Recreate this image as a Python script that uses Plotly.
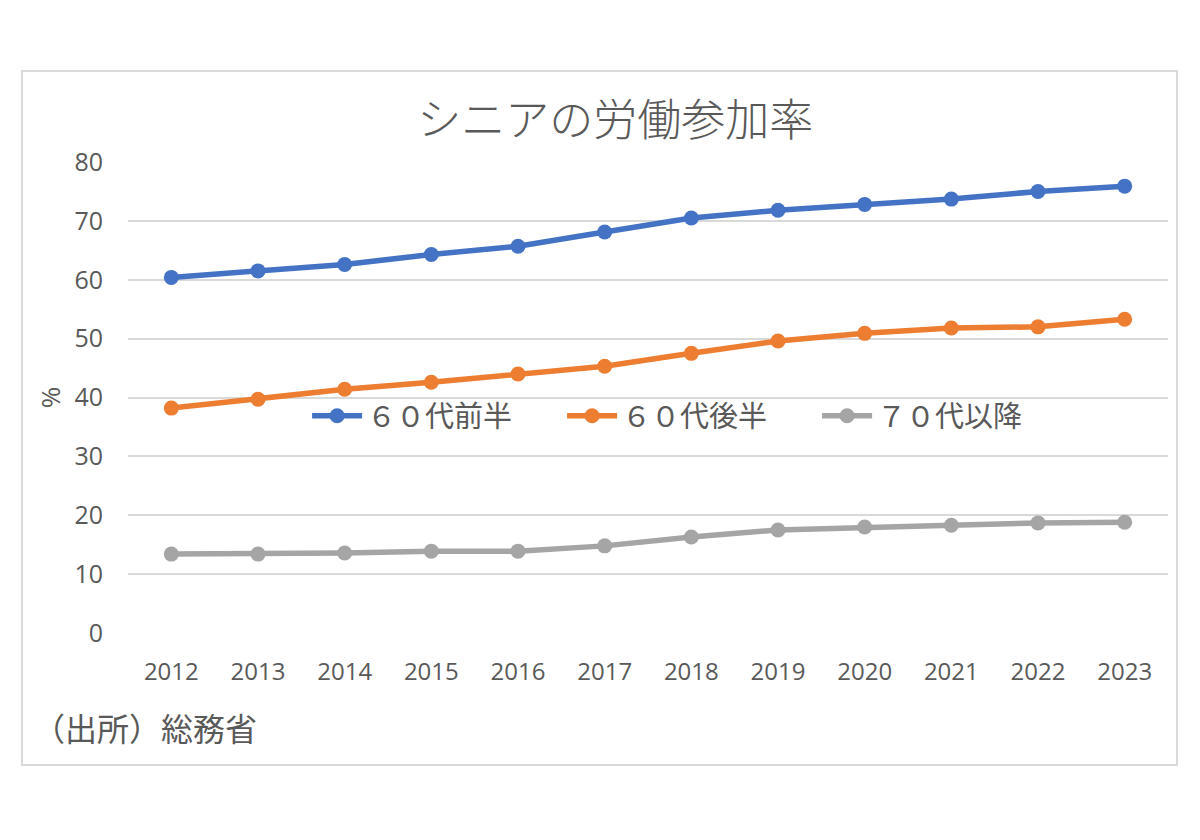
import plotly.graph_objects as go

years = ["2012", "2013", "2014", "2015", "2016", "2017", "2018", "2019", "2020", "2021", "2022", "2023"]
early60s = [60.4, 61.5, 62.6, 64.3, 65.7, 68.1, 70.5, 71.8, 72.8, 73.7, 75.0, 75.9]
late60s = [38.2, 39.7, 41.4, 42.6, 44.0, 45.3, 47.5, 49.6, 50.9, 51.8, 52.0, 53.3]
over70 = [13.4, 13.4, 13.6, 13.9, 13.9, 14.8, 16.3, 17.5, 18.0, 18.3, 18.7, 18.8]
series_names = ["６０代前半", "６０代後半", "７０代以降"]
y_ticks = [0, 10, 20, 30, 40, 50, 60, 70, 80]

colors = ["#4472C4", "#ED7D31", "#A5A5A5"]
font_family = "Noto Sans CJK JP, Noto Sans, sans-serif"
num_font = "Open Sans, sans-serif"
text_col = "#595959"

fig = go.Figure()
for name, vals, col in zip(series_names, [early60s, late60s, over70], colors):
    fig.add_trace(go.Scatter(
        x=years, y=vals, name=name, mode="lines+markers",
        line=dict(color=col, width=5.5),
        marker=dict(color=col, size=15),
    ))

fig.update_layout(
    width=1200, height=840,
    paper_bgcolor="white", plot_bgcolor="white",
    margin=dict(l=120, r=40, t=154, b=215),
    title=dict(text="シニアの労働参加率", x=0.506, xanchor="center", y=0.866, yanchor="middle",
               font=dict(family=font_family, size=44, color=text_col, weight=300)),
    font=dict(family=font_family, color=text_col),
    showlegend=True,
    legend=dict(orientation="h", x=0.54, xanchor="center", y=0.461, yanchor="middle",
                bgcolor="rgba(255,255,255,0)", font=dict(size=29, color=text_col),
                entrywidth=190, entrywidthmode="pixels", itemwidth=50),
    xaxis=dict(type="category", range=[-0.5, 11.5], showgrid=False, showline=False, zeroline=False,
               ticks="", tickfont=dict(size=24, color=text_col, family=num_font), ticklabelstandoff=22),
    yaxis=dict(range=[0, 80], tickvals=y_ticks, showgrid=True, gridcolor="#D9D9D9", gridwidth=2,
               zeroline=False, showline=False, ticks="",
               tickfont=dict(size=25, color=text_col, family=num_font), ticklabelstandoff=24,
               title=dict(text="%", font=dict(size=26, color=text_col, family=num_font), standoff=6)),
    shapes=[dict(type="rect", xref="paper", yref="paper", x0=-0.102, x1=1.0087, y0=-0.280, y1=1.193,
                 line=dict(color="#D9D9D9", width=2), fillcolor="rgba(0,0,0,0)", layer="below")],
    annotations=[dict(text="（出所）総務省", xref="paper", yref="paper", x=-0.093, y=-0.2,
                      xanchor="left", yanchor="middle", showarrow=False,
                      font=dict(family=font_family, size=32, color=text_col))],
)

fig.write_html("out.html")
